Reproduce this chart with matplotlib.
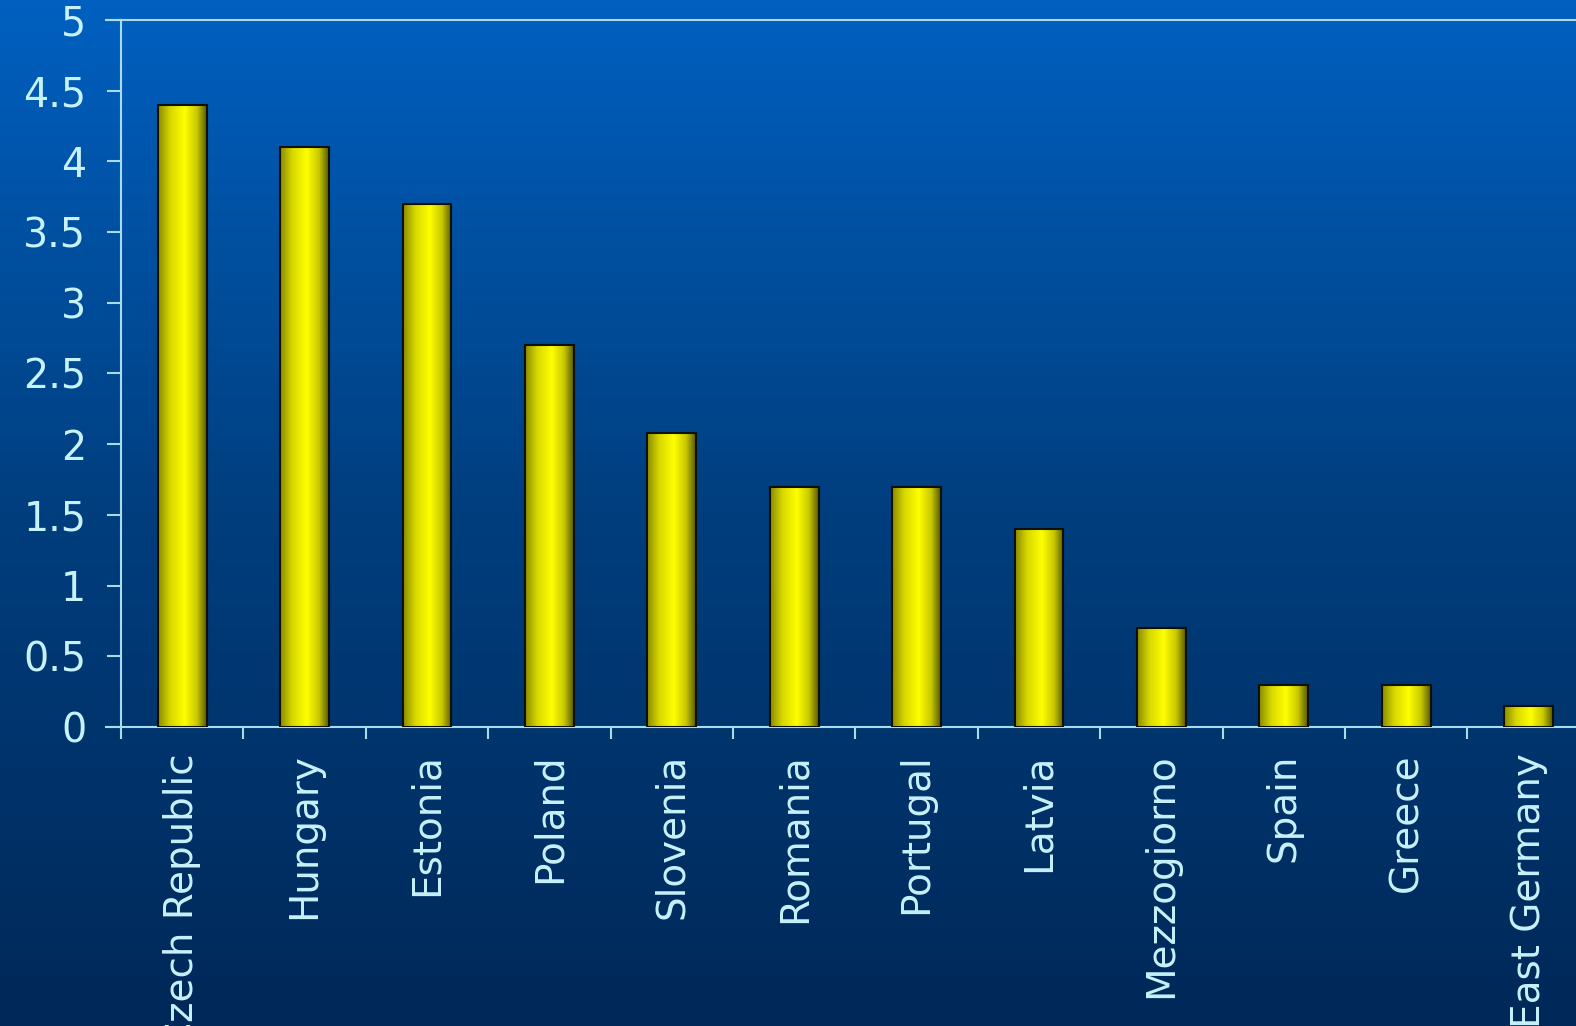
import numpy as np
import matplotlib
matplotlib.use("Agg")
import matplotlib.pyplot as plt
from matplotlib.colors import LinearSegmentedColormap

categories = ["Czech Republic", "Hungary", "Estonia", "Poland", "Slovenia", "Romania",
              "Portugal", "Latvia", "Mezzogiorno", "Spain", "Greece", "East Germany"]
values = [4.4, 4.1, 3.7, 2.7, 2.08, 1.7, 1.7, 1.4, 0.7, 0.3, 0.3, 0.15]
yticks = [0, 0.5, 1, 1.5, 2, 2.5, 3, 3.5, 4, 4.5, 5]
ytick_labels = ["0", "0.5", "1", "1.5", "2", "2.5", "3", "3.5", "4", "4.5", "5"]

W, H = 1576, 1026
fig = plt.figure(figsize=(W / 100, H / 100), dpi=100)

# background gradient
bg = fig.add_axes([0, 0, 1, 1], zorder=-10)
bg_cmap = LinearSegmentedColormap.from_list("bg", ["#002858", "#003E7E", "#0060C0"])
grad = np.linspace(0, 1, 256).reshape(-1, 1)
bg.imshow(grad, aspect="auto", cmap=bg_cmap, origin="lower", extent=[0, 1, 0, 1])
bg.set_axis_off()

line_col = "#A8DCEC"
text_col = "#C8F2FA"

left = 121 / W
width = 12 * 122.4 / W
bottom = (H - 727) / H
top = (H - 20) / H
ax = fig.add_axes([left, bottom, width, top - bottom])
ax.patch.set_alpha(0)

x = np.arange(len(categories))
bars = ax.bar(x, values, width=0.4, facecolor="none", edgecolor="#101000", linewidth=1.5, zorder=3)

bar_cmap = LinearSegmentedColormap.from_list(
    "bar", [(0, "#8A8A00"), (0.25, "#D8D800"), (0.55, "#FFFF00"), (0.8, "#C8C800"), (1, "#585800")])
hgrad = np.linspace(0, 1, 128).reshape(1, -1)
for b in bars:
    bx, by, bw, bh = b.get_x(), b.get_y(), b.get_width(), b.get_height()
    im = ax.imshow(hgrad, cmap=bar_cmap, aspect="auto", extent=[bx, bx + bw, by, by + bh],
                   zorder=2, interpolation="bilinear")
    im.set_clip_path(b)

ax.set_xlim(-0.5, len(categories) - 0.5)
ax.set_ylim(0, 5)

ax.set_yticks(yticks)
ax.set_yticklabels(ytick_labels)
ax.set_xticks(np.arange(len(categories) + 1) - 0.5, minor=False)
ax.set_xticklabels([])
ax.set_xticks(x, minor=True)
ax.set_xticklabels(categories, minor=True, rotation=90, ha="center", va="top")

ax.tick_params(axis="y", which="major", length=10, width=1.5, color=line_col,
               labelcolor=text_col, labelsize=28.5, pad=15)
ax.tick_params(axis="x", which="major", length=8.5, width=1.5, color=line_col, direction="out")
ax.tick_params(axis="x", which="minor", length=0, labelcolor=text_col, labelsize=28, pad=19)

for s in ["left", "bottom", "top"]:
    ax.spines[s].set_color(line_col)
    ax.spines[s].set_linewidth(1.5)
ax.spines["right"].set_visible(False)

# extend horizontal lines left to the tick end
ax.plot([-0.62, -0.5], [0, 0], color=line_col, lw=1.5, clip_on=False)
ax.plot([-0.62, -0.5], [5, 5], color=line_col, lw=1.5, clip_on=False)

fig.savefig("out.png", dpi=100)
